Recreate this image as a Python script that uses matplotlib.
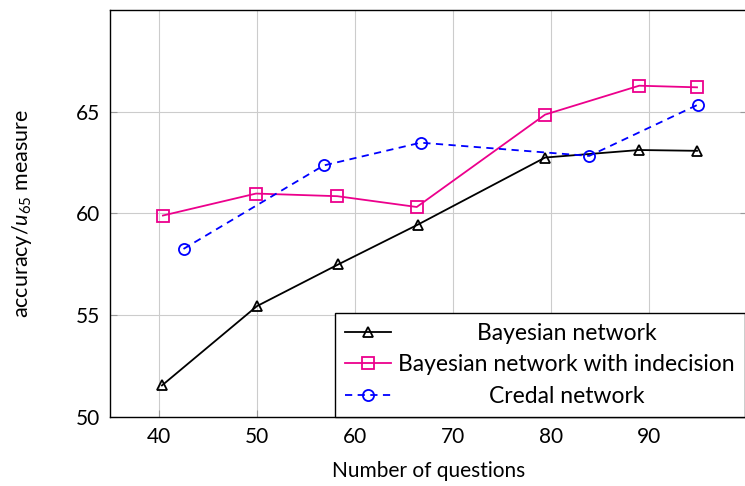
import matplotlib
matplotlib.use('Agg')
import matplotlib.pyplot as plt

plt.rcParams['font.family'] = ['Lato', 'DejaVu Sans']
plt.rcParams['mathtext.fontset'] = 'custom'
plt.rcParams['mathtext.rm'] = 'Lato'
plt.rcParams['mathtext.it'] = 'Lato:italic'

# Data
bn_x = [40.3, 50.0, 58.3, 66.4, 79.4, 89.0, 94.9]
bn_y = [51.55, 55.45, 57.5, 59.45, 62.75, 63.12, 63.08]
bni_x = [40.4, 49.9, 58.2, 66.3, 79.4, 89.0, 94.9]
bni_y = [59.9, 60.98, 60.85, 60.32, 64.86, 66.28, 66.2]
cn_x = [42.5, 56.8, 66.7, 83.9, 95.0]
cn_y = [58.26, 62.36, 63.48, 62.83, 65.35]

labels = ["Bayesian network", "Bayesian network with indecision", "Credal network"]
xticks = [40, 50, 60, 70, 80, 90]
yticks = [50, 55, 60, 65]

W, H = 745, 486
fig = plt.figure(figsize=(W / 100, H / 100), dpi=100)
ax = fig.add_axes([110 / W, 1 - 417 / H, (747 - 110) / W, (417 - 10) / H])

pink = '#EC008C'
ax.plot(bn_x, bn_y, color='black', lw=1.3, marker='^', ms=7, mfc='none',
        mec='black', mew=1.3, label=labels[0], zorder=3)
ax.plot(bni_x, bni_y, color=pink, lw=1.3, marker='s', ms=8, mfc='none',
        mec=pink, mew=1.3, label=labels[1], zorder=3)
ax.plot(cn_x, cn_y, color='blue', lw=1.3, ls=(0, (4, 3)), marker='o', ms=8,
        mfc='none', mec='blue', mew=1.3, label=labels[2], zorder=3)

ax.set_xlim(35, 100)
ax.set_ylim(50, 70)
ax.set_xticks(xticks)
ax.set_yticks(yticks)
ax.grid(True, color='#cccccc', lw=0.8)
ax.set_axisbelow(True)
ax.tick_params(direction='in', length=5, color='#999999', labelsize=15,
               right=True, pad=7)
for s in ax.spines.values():
    s.set_linewidth(1.0)
    s.set_color('black')

ax.set_xlabel('Number of questions', fontsize=15, labelpad=10)
ax.set_ylabel('accuracy/$u_{65}$ measure', fontsize=15.5, labelpad=30)

leg = ax.legend(loc='lower right', bbox_to_anchor=(635 / 637, 0), borderaxespad=0,
                fancybox=False, edgecolor='black', framealpha=1, fontsize=16.5,
                handlelength=2.0, handletextpad=0.3, labelspacing=0.45,
                borderpad=0.45)
leg.get_frame().set_linewidth(1.0)

# center legend texts within the text column (pgfplots style)
fig.canvas.draw()
r = fig.canvas.get_renderer()
texts = leg.get_texts()
bbs = [t.get_window_extent(r) for t in texts]
maxw = max(b.width for b in bbs)
for t, b in zip(texts, bbs):
    t.set_x((maxw - b.width) / 2)

fig.savefig('out.png', dpi=100)
